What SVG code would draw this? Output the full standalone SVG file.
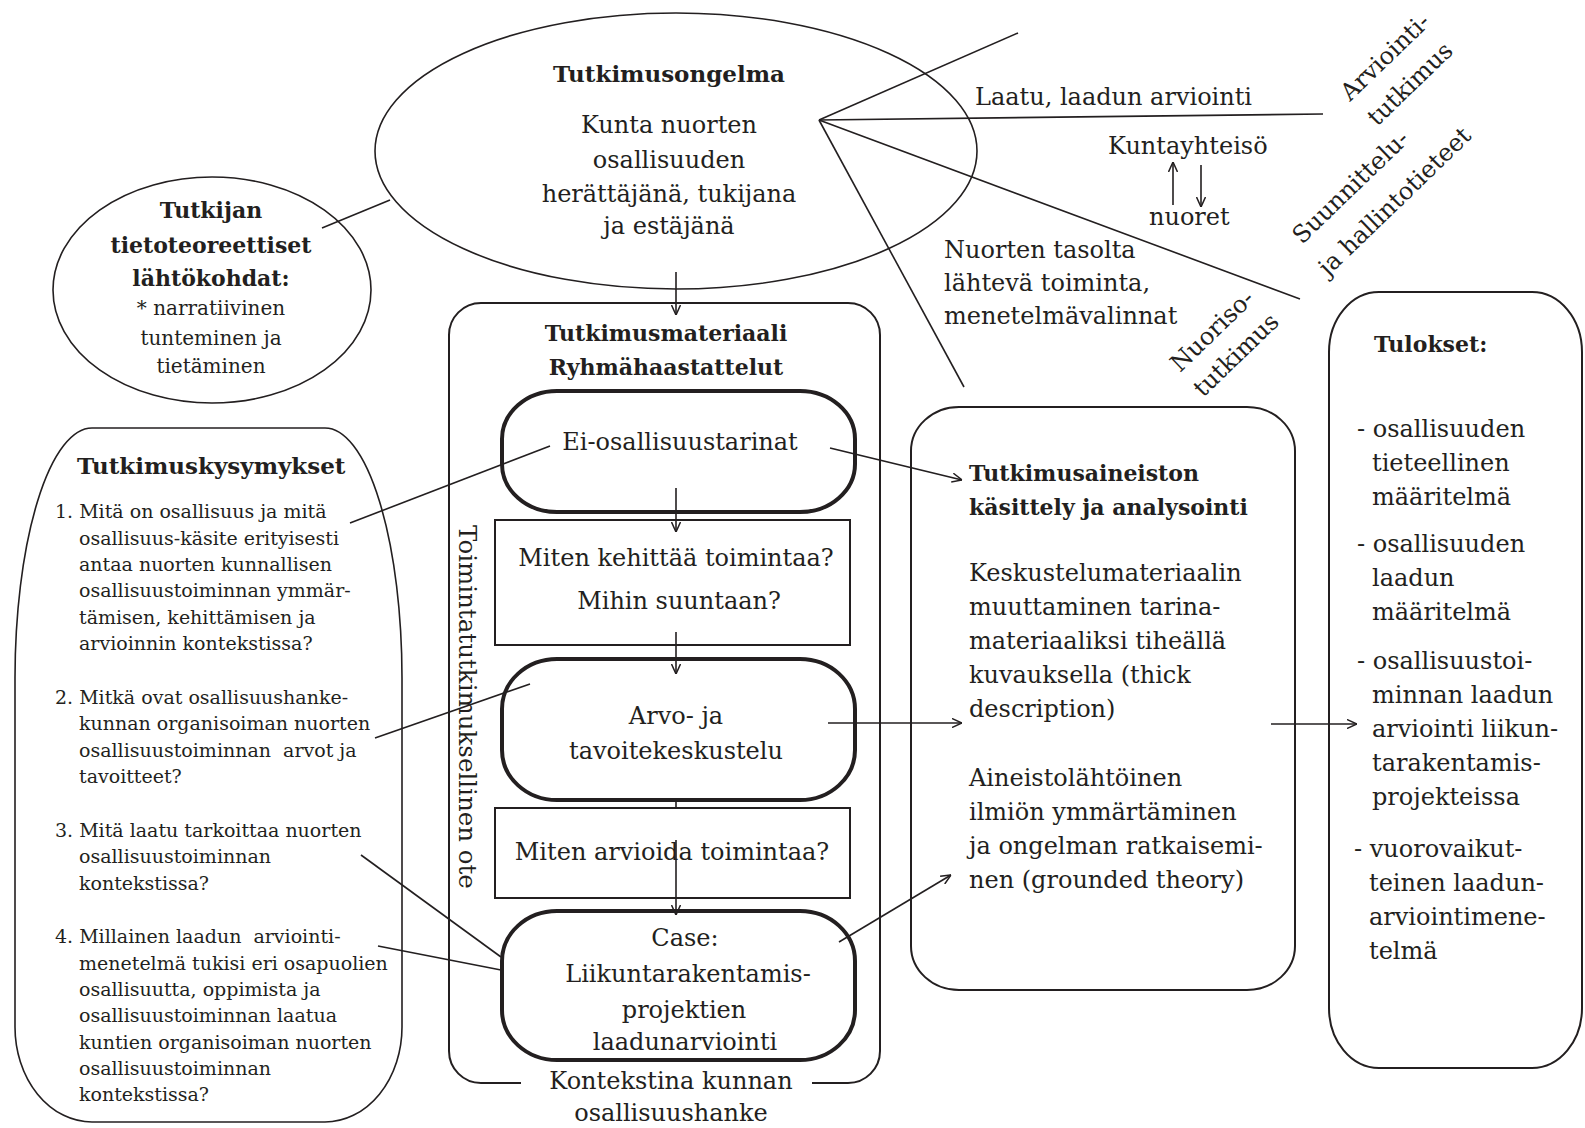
<svg xmlns="http://www.w3.org/2000/svg" width="1585" height="1128" viewBox="0 0 1585 1128">
<style>
text { font-family: "DejaVu Serif", "Liberation Serif", serif; fill: #231f20; font-size: 24px; }
.b { font-weight: bold; }
.q { font-size: 19px; }
.s20 { font-size: 20px; }
.mid { text-anchor: middle; }
.thin { fill: none; stroke: #231f20; stroke-width: 1.6; }
.thick { fill: none; stroke: #231f20; stroke-width: 4; }
.box { fill: none; stroke: #231f20; stroke-width: 2; }
.arr { marker-end: url(#ah); }
</style>
<defs>
<marker id="ah" viewBox="0 0 10 10" refX="10" refY="5" markerWidth="10" markerHeight="10" markerUnits="userSpaceOnUse" orient="auto">
<path d="M0,0.5 L10,5 L0,9.5" fill="none" stroke="#231f20" stroke-width="1.5"/>
</marker>
</defs>
<rect width="1585" height="1128" fill="#ffffff"/>

<g id="connectors">
<line class="thin" x1="322" y1="228" x2="390" y2="200"/>
<line class="thin" x1="819" y1="120" x2="1018" y2="33"/>
<line class="thin" x1="819" y1="120" x2="1323" y2="114"/>
<line class="thin" x1="819" y1="120" x2="1300" y2="299"/>
<line class="thin" x1="819" y1="120" x2="964" y2="387"/>
<line class="thin arr" x1="676" y1="272" x2="676" y2="315"/>
<line class="thin arr" x1="1173" y1="205" x2="1173" y2="162"/>
<line class="thin arr" x1="1201" y1="165" x2="1201" y2="207"/>
<line class="thin" x1="350" y1="523" x2="550" y2="446"/>
<line class="thin" x1="375" y1="738" x2="530" y2="684"/>
<line class="thin" x1="361" y1="855" x2="501" y2="957"/>
<line class="thin" x1="378" y1="946" x2="501" y2="970"/>
<line class="thin arr" x1="676" y1="488" x2="676" y2="532"/>
<line class="thin arr" x1="676" y1="632" x2="676" y2="674"/>
<line class="thin" x1="676" y1="800" x2="676" y2="808"/>
<line class="thin arr" x1="676" y1="840" x2="676" y2="915"/>
<line class="thin arr" x1="830" y1="448" x2="962" y2="480"/>
<line class="thin arr" x1="828" y1="723" x2="962" y2="723"/>
<line class="thin arr" x1="839" y1="942" x2="951" y2="875"/>
<line class="thin arr" x1="1271" y1="724" x2="1357" y2="724"/>
</g>

<g id="problem">
<ellipse class="thin" cx="676" cy="151" rx="301" ry="138"/>
<text class="b mid" x="669" y="82" style="font-size:23px">Tutkimusongelma</text>
<text class="mid" x="669" y="133">Kunta nuorten</text>
<text class="mid" x="669" y="168">osallisuuden</text>
<text class="mid" x="669" y="202">herättäjänä, tukijana</text>
<text class="mid" x="669" y="234">ja estäjänä</text>
</g>

<g id="researcher">
<ellipse class="thin" cx="212" cy="290" rx="159" ry="113"/>
<text class="b mid" x="211" y="218" style="font-size:22px">Tutkijan</text>
<text class="b mid" x="211" y="253" style="font-size:22px">tietoteoreettiset</text>
<text class="b mid" x="211" y="286" style="font-size:22px">lähtökohdat:</text>
<text class="s20 mid" x="211" y="315">* narratiivinen</text>
<text class="s20 mid" x="211" y="345">tunteminen ja</text>
<text class="s20 mid" x="211" y="373">tietäminen</text>
</g>

<g id="labels">
<text x="975" y="105">Laatu, laadun arviointi</text>
<text x="1108" y="154">Kuntayhteisö</text>
<text x="1149" y="225">nuoret</text>
<text x="944" y="258">Nuorten tasolta</text>
<text x="944" y="291">lähtevä toiminta,</text>
<text x="944" y="324">menetelmävalinnat</text>
<text transform="translate(1350,102) rotate(-44)">Arviointi-</text>
<text transform="translate(1377,127) rotate(-44)">tutkimus</text>
<text transform="translate(1302,245) rotate(-44)">Suunnittelu-</text>
<text transform="translate(1328,277) rotate(-44)">ja hallintotieteet</text>
<text transform="translate(1180,373) rotate(-44)">Nuoriso-</text>
<text transform="translate(1203,398) rotate(-44)">tutkimus</text>
</g>

<g id="questions">
<path class="thin" d="M92,428 H325 A77 250 0 0 1 402 678 V1027 A77 95 0 0 1 325 1122 H92 A77 95 0 0 1 15 1027 V678 A77 250 0 0 1 92 428 Z"/>
<text class="b" x="77" y="474" style="font-size:23px">Tutkimuskysymykset</text>
<text class="q" x="55" y="518">1. Mitä on osallisuus ja mitä</text>
<text class="q" x="79" y="545">osallisuus-käsite erityisesti</text>
<text class="q" x="79" y="571">antaa nuorten kunnallisen</text>
<text class="q" x="79" y="597">osallisuustoiminnan ymmär-</text>
<text class="q" x="79" y="624">tämisen, kehittämisen ja</text>
<text class="q" x="79" y="650">arvioinnin kontekstissa?</text>
<text class="q" x="55" y="704">2. Mitkä ovat osallisuushanke-</text>
<text class="q" x="79" y="730">kunnan organisoiman nuorten</text>
<text class="q" x="79" y="757">osallisuustoiminnan &#160;arvot ja</text>
<text class="q" x="79" y="783">tavoitteet?</text>
<text class="q" x="55" y="837">3. Mitä laatu tarkoittaa nuorten</text>
<text class="q" x="79" y="863">osallisuustoiminnan</text>
<text class="q" x="79" y="890">kontekstissa?</text>
<text class="q" x="55" y="943">4. Millainen laadun &#160;arviointi-</text>
<text class="q" x="79" y="970">menetelmä tukisi eri osapuolien</text>
<text class="q" x="79" y="996">osallisuutta, oppimista ja</text>
<text class="q" x="79" y="1022">osallisuustoiminnan laatua</text>
<text class="q" x="79" y="1049">kuntien organisoiman nuorten</text>
<text class="q" x="79" y="1075">osallisuustoiminnan</text>
<text class="q" x="79" y="1101">kontekstissa?</text>
</g>

<g id="material">
<path class="box" d="M521,1083 H481 A32 32 0 0 1 449 1051 V335 A32 32 0 0 1 481 303 H848 A32 32 0 0 1 880 335 V1051 A32 32 0 0 1 848 1083 H812"/>
<text class="b mid" x="666" y="341" style="font-size:22px">Tutkimusmateriaali</text>
<text class="b mid" x="666" y="375" style="font-size:22px">Ryhmähaastattelut</text>
<text transform="translate(459,525) rotate(90)" style="font-size:24.5px">Toimintatutkimuksellinen ote</text>
<text class="mid" x="671" y="1089">Kontekstina kunnan</text>
<text class="mid" x="671" y="1121">osallisuushanke</text>
</g>

<g id="ei">
<rect class="thick" x="502" y="391" width="353" height="121" rx="55" ry="48"/>
<text class="mid" x="680" y="450">Ei-osallisuustarinat</text>
</g>

<g id="miten1">
<rect class="box" x="495" y="520" width="355" height="125"/>
<text class="mid" x="676" y="566">Miten kehittää toimintaa?</text>
<text class="mid" x="679" y="609">Mihin suuntaan?</text>
</g>

<g id="arvo">
<rect class="thick" x="502" y="659" width="353" height="141" rx="55" ry="50"/>
<text class="mid" x="676" y="724">Arvo- ja</text>
<text class="mid" x="676" y="759">tavoitekeskustelu</text>
</g>

<g id="miten2">
<rect class="box" x="495" y="808" width="355" height="90"/>
<text class="mid" x="672" y="860">Miten arvioida toimintaa?</text>
</g>

<g id="case">
<rect class="thick" x="502" y="911" width="353" height="149" rx="55" ry="50"/>
<text class="mid" x="685" y="946">Case:</text>
<text class="mid" x="688" y="982">Liikuntarakentamis-</text>
<text class="mid" x="684" y="1018">projektien</text>
<text class="mid" x="685" y="1050">laadunarviointi</text>
</g>

<g id="analysis">
<rect class="box" x="911" y="407" width="384" height="583" rx="48" ry="44"/>
<text class="b" x="969" y="481" style="font-size:22px">Tutkimusaineiston</text>
<text class="b" x="969" y="515" style="font-size:22px">käsittely ja analysointi</text>
<text x="969" y="581">Keskustelumateriaalin</text>
<text x="969" y="615">muuttaminen tarina-</text>
<text x="969" y="649">materiaaliksi tiheällä</text>
<text x="969" y="683">kuvauksella (thick</text>
<text x="969" y="717">description)</text>
<text x="969" y="786">Aineistolähtöinen</text>
<text x="969" y="820">ilmiön ymmärtäminen</text>
<text x="969" y="854">ja ongelman ratkaisemi-</text>
<text x="969" y="888">nen (grounded theory)</text>
</g>

<g id="results">
<rect class="box" x="1329" y="292" width="253" height="776" rx="50" ry="60"/>
<text class="b" x="1374" y="352" style="font-size:22px">Tulokset:</text>
<text x="1357" y="437">- osallisuuden</text>
<text x="1372" y="471">tieteellinen</text>
<text x="1372" y="505">määritelmä</text>
<text x="1357" y="552">- osallisuuden</text>
<text x="1372" y="586">laadun</text>
<text x="1372" y="620">määritelmä</text>
<text x="1357" y="669">- osallisuustoi-</text>
<text x="1372" y="703">minnan laadun</text>
<text x="1372" y="737">arviointi liikun-</text>
<text x="1372" y="771">tarakentamis-</text>
<text x="1372" y="805">projekteissa</text>
<text x="1354" y="857">- vuorovaikut-</text>
<text x="1369" y="891">teinen laadun-</text>
<text x="1369" y="925">arviointimene-</text>
<text x="1369" y="959">telmä</text>
</g>
</svg>
